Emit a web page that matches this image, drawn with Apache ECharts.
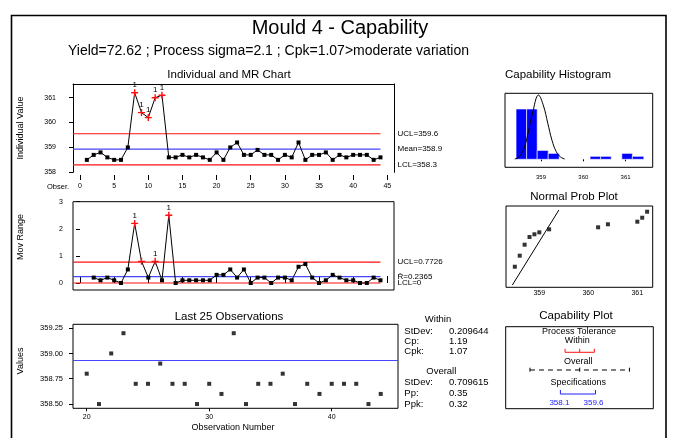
<!DOCTYPE html>
<html><head><meta charset="utf-8">
<script src="https://cdn.jsdelivr.net/npm/echarts@6/dist/echarts.min.js"></script>
<style>html,body{margin:0;padding:0;background:#fff}#c{width:676px;height:438px}</style>
</head><body><div id="c"></div>
<script>
// ---------------- DATA ----------------
const obsNums = [1,2,3,4,5,6,7,8,9,10,11,12,13,14,15,16,17,18,19,20,21,22,23,24,25,26,27,28,29,30,31,32,33,34,35,36,37,38,39,40,41,42,43,44];
const indValues = [358.5,358.7,358.8,358.6,358.5,358.5,359.0,361.2,360.4,360.2,361.0,361.1,358.6,358.6,358.7,358.6,358.7,358.6,358.5,358.8,358.5,359.0,359.2,358.7,358.7,358.9,358.7,358.7,358.5,358.7,358.6,359.2,358.5,358.7,358.7,358.8,358.5,358.7,358.6,358.7,358.7,358.7,358.5,358.6];
const indFlagged = [8,9,10,11,12];
const indLimitNames = ['UCL=359.6','Mean=358.9','LCL=358.3'];
const indLimitValues = [359.55,358.93,358.30];

const mrObs = [2,3,4,5,6,7,8,9,10,11,12,13,14,15,16,17,18,19,20,21,22,23,24,25,26,27,28,29,30,31,32,33,34,35,36,37,38,39,40,41,42,43,44];
const mrValues = [0.2,0.1,0.2,0.1,0.0,0.5,2.2,0.8,0.2,0.8,0.1,2.5,0.0,0.1,0.1,0.1,0.1,0.1,0.3,0.3,0.5,0.2,0.5,0.0,0.2,0.2,0.0,0.2,0.2,0.1,0.6,0.7,0.2,0.0,0.1,0.3,0.2,0.1,0.1,0.0,0.0,0.2,0.1];
const mrFlagged = [8,9,11,13];
const mrLabeled = [8,11,13];
const mrLimitNames = ['UCL=0.7726','R\u0304=0.2365','LCL=0'];
const mrLimitValues = [0.7726,0.2365,0];

const obsTicks = [0,5,10,15,20,25,30,35,40,45];
const indTicks = [358,359,360,361];
const mrTicks = [0,1,2,3];

const last25Obs = [20,21,22,23,24,25,26,27,28,29,30,31,32,33,34,35,36,37,38,39,40,41,42,43,44];
const last25Values = [358.8,358.5,359.0,359.2,358.7,358.7,358.9,358.7,358.7,358.5,358.7,358.6,359.2,358.5,358.7,358.7,358.8,358.5,358.7,358.6,358.7,358.7,358.7,358.5,358.6];
const last25Mean = 358.925;
const last25XTicks = [20,30,40];
const last25YTicks = [358.5,358.75,359.0,359.25];

const binLo = [358.41,358.66,358.91,359.17,360.16,360.41,360.91,361.16];
const binHi = [358.66,358.91,359.17,359.43,360.41,360.66,361.16,361.43];
const binCounts = [17,17,3,2,1,1,2,1];
const curveX = [358.38,358.46,358.54,358.62,358.70,358.80,358.94,359.06,359.16,359.26,359.36,359.46,359.56];
const curveY = [0.1,0.6,1.9,4.6,9.2,15.6,21.7,18.0,12.2,6.4,2.6,0.8,0.1];
const histTicks = [359,360,361];

const probX = [358.5,358.6,358.7,358.8,358.9,359.0,359.2,360.2,360.4,361.0,361.1,361.2];
const probY = [25.3,38.9,52.4,61.9,65.2,67.6,71.3,73.8,77.5,80.7,85.6,93.0];
const fitX = [358.45,359.40];
const fitY = [2.8,95.1];
const probTicks = [359,360,361];

const capRows = ['Within','Overall','Specifications'];
const capLo = [358.30,356.80,358.1];
const capHi = [359.55,361.05,359.6];
const capMid = [358.925,358.925,null];

const withinStatNames = ['StDev:','Cp:','Cpk:'];
const withinStatValues = ['0.209644','1.19','1.07'];
const overallStatNames = ['StDev:','Pp:','Ppk:'];
const overallStatValues = ['0.709615','0.35','0.32'];

const mainTitle = 'Mould 4 - Capability';
const subTitle = 'Yield=72.62 ; Process sigma=2.1 ; Cpk=1.07>moderate variation';

// ---------------- LAYOUT / STYLE ----------------
const FONT = '"Liberation Sans", Arial, sans-serif';
const BLUE = '#4646ff', RED = '#ff1010', HBLUE = '#0000ff';
const plusPath = 'path://M4,0H6V4H10V6H6V10H4V6H0V4H4Z';
const indX = {min:-1.03, max:45.98};
const capRowY = [68.8,47.2,17.9];
const capColors = [RED,'#000','#2020ff'];

function txt(x,y,s,size,extra){
  const st = Object.assign({text:s, font: size+'px '+FONT, fill:'#000', align:'center', verticalAlign:'middle', textAlign:'center', textVerticalAlign:'middle'}, extra||{});
  return {type:'text', x:x, y:y, z:100, style:st};
}
function ltxt(x,y,s,size){ return txt(x,y,s,size,{align:'left',textAlign:'left'}); }

const blackTick = {lineStyle:{color:'#000',width:1}};
const lbl = (size, extra) => Object.assign({color:'#000', fontSize:size, fontFamily:FONT}, extra||{});

function pt(x,y,flag,labeled){
  if(!flag) return [x,y];
  return {value:[x,y], symbol:plusPath, symbolSize:7, itemStyle:{color:RED},
    label:{show:!!labeled, formatter:'1', position:'top', distance:0, fontSize:8, color:'#000', fontFamily:FONT}};
}

const grids = [
  {left:73, top:84, width:321, height:88.3},                 // 0 individual
  {left:73, top:201.7, width:321, height:88.3, show:true, borderColor:'#000', borderWidth:1}, // 1 MR
  {left:73, top:324.3, width:325, height:84, show:true, borderColor:'#000', borderWidth:1},   // 2 last 25
  {left:505, top:93.3, width:147.7, height:74, show:true, borderColor:'#000', borderWidth:1}, // 3 histogram
  {left:506, top:206, width:146.7, height:81.3, show:true, borderColor:'#000', borderWidth:1},// 4 norm prob
  {left:505.7, top:326.7, width:147.6, height:82, show:true, borderColor:'#000', borderWidth:1}// 5 cap plot
];

const noLine = {show:false};
const xAxes = [
  {gridIndex:0, type:'value', min:indX.min, max:indX.max, position:'bottom', offset:7.7,
   axisLine:noLine, splitLine:noLine,
   axisTick:Object.assign({show:true, inside:true, length:5, customValues:obsTicks}, blackTick),
   axisLabel:lbl(7,{customValues:obsTicks, margin:3})},
  {gridIndex:0, type:'value', min:indX.min, max:indX.max, position:'top',
   axisLine:{show:true, onZero:false, lineStyle:{color:'#000',width:1}}, axisTick:noLine, axisLabel:noLine, splitLine:noLine},
  {gridIndex:1, type:'value', min:indX.min, max:indX.max, position:'top',
   axisLine:noLine, splitLine:noLine,
   axisTick:Object.assign({show:true, inside:false, length:7, customValues:obsTicks}, blackTick), axisLabel:noLine},
  {gridIndex:2, type:'value', min:18.88, max:45.41, position:'bottom',
   axisLine:noLine, splitLine:noLine,
   axisTick:Object.assign({show:true, length:3, customValues:last25XTicks}, blackTick),
   axisLabel:lbl(7,{customValues:last25XTicks, margin:5})},
  {gridIndex:3, type:'value', min:358.149, max:361.64, position:'bottom',
   axisLine:noLine, splitLine:noLine,
   axisTick:Object.assign({show:true, length:2, customValues:histTicks}, blackTick),
   axisLabel:lbl(6,{customValues:histTicks, margin:7})},
  {gridIndex:4, type:'value', min:358.32, max:361.314, position:'bottom',
   axisLine:noLine, splitLine:noLine, axisTick:noLine,
   axisLabel:lbl(7,{customValues:probTicks, margin:2})},
  {gridIndex:5, type:'value', min:355.763, max:362.07, show:false}
];
const yAxes = [
  {gridIndex:0, type:'value', min:358, max:361.55, position:'left',
   axisLine:{show:true, onZero:false, lineStyle:{color:'#000',width:1}}, splitLine:noLine,
   axisTick:Object.assign({show:true, length:4, customValues:indTicks}, blackTick),
   axisLabel:lbl(7,{customValues:indTicks, margin:17})},
  {gridIndex:0, type:'value', min:358, max:361.55, position:'right',
   axisLine:{show:true, onZero:false, lineStyle:{color:'#000',width:1}}, axisTick:noLine, axisLabel:noLine, splitLine:noLine},
  {gridIndex:1, type:'value', min:-0.258, max:3, position:'left',
   axisLine:noLine, splitLine:noLine,
   axisTick:Object.assign({show:true, length:4, customValues:mrTicks}, blackTick),
   axisLabel:lbl(7,{customValues:mrTicks, margin:10})},
  {gridIndex:2, type:'value', min:358.458, max:359.288, position:'left',
   axisLine:noLine, splitLine:noLine,
   axisTick:Object.assign({show:true, length:4, customValues:last25YTicks}, blackTick),
   axisLabel:lbl(7.5,{customValues:last25YTicks, margin:10, formatter:v=>Number(v).toFixed(2)})},
  {gridIndex:3, type:'value', min:-2.7, max:22.3, show:false},
  {gridIndex:4, type:'value', min:0, max:100, show:false},
  {gridIndex:5, type:'value', min:0, max:100, show:false}
];

const series = [];
// Individual chart
indLimitValues.forEach((v,i)=>{
  series.push({type:'line', xAxisIndex:0, yAxisIndex:0, data:[[indX.min,v],[obsNums[obsNums.length-1],v]],
    symbol:'none', lineStyle:{color: i===1?BLUE:RED, width:1.2}, z:2, silent:true,
    endLabel:{show:true, formatter:indLimitNames[i], distance:17, fontSize:8, color:'#000', fontFamily:FONT}});
});
series.push({type:'line', xAxisIndex:0, yAxisIndex:0, z:5,
  data: obsNums.map((o,i)=>pt(o, indValues[i], indFlagged.includes(o), true)),
  symbol:'rect', symbolSize:4, showAllSymbol:true, itemStyle:{color:'#000'}, lineStyle:{color:'#000', width:1}});
// MR chart
mrLimitValues.forEach((v,i)=>{
  series.push({type:'line', xAxisIndex:2, yAxisIndex:2, data:[[indX.min,v],[obsNums[obsNums.length-1],v]],
    symbol:'none', lineStyle:{color: i===1?BLUE:RED, width:1.2}, z:2, silent:true,
    endLabel:{show:true, formatter:mrLimitNames[i], distance:17, fontSize:8, color:'#000', fontFamily:FONT}});
});
series.push({type:'line', xAxisIndex:2, yAxisIndex:2, z:5,
  data: mrObs.map((o,i)=>pt(o, mrValues[i], mrFlagged.includes(o), mrLabeled.includes(o))),
  symbol:'rect', symbolSize:4, showAllSymbol:true, itemStyle:{color:'#000'}, lineStyle:{color:'#000', width:1}});
// Last 25
series.push({type:'scatter', xAxisIndex:3, yAxisIndex:3, z:5,
  data: last25Obs.map((o,i)=>[o, last25Values[i]]), symbol:'rect', symbolSize:4, itemStyle:{color:'#000'},
  markLine:{silent:true, symbol:'none', animation:false, label:{show:false},
    lineStyle:{color:BLUE, type:'solid', width:1.2}, data:[{yAxis:last25Mean}]}});
// Histogram
series.push({type:'custom', xAxisIndex:4, yAxisIndex:4, z:3,
  data: binLo.map((lo,i)=>[lo, binHi[i], binCounts[i]]), encode:{x:[0,1], y:2},
  renderItem:(params, api)=>{
    const p0 = api.coord([api.value(0), api.value(2)]);
    const p1 = api.coord([api.value(1), 0]);
    return {type:'rect', shape:{x:p0[0], y:p0[1], width:p1[0]-p0[0], height:p1[1]-p0[1]},
      style:{fill:HBLUE, stroke:'#fff', lineWidth:0.6}};
  }});
series.push({type:'line', xAxisIndex:4, yAxisIndex:4, z:6, smooth:0.4,
  data: curveX.map((x,i)=>[x, curveY[i]]), symbol:'none', lineStyle:{color:'#000', width:1}});
// Normal probability plot
series.push({type:'line', xAxisIndex:5, yAxisIndex:5, z:4,
  data: fitX.map((x,i)=>[x, fitY[i]]), symbol:'none', lineStyle:{color:'#000', width:1}});
series.push({type:'scatter', xAxisIndex:5, yAxisIndex:5, z:5,
  data: probX.map((x,i)=>[x, probY[i]]), symbol:'rect', symbolSize:4, itemStyle:{color:'#000'}});
// Capability plot
series.push({type:'custom', xAxisIndex:6, yAxisIndex:6, z:5,
  data: capLo.map((lo,i)=>[lo, capHi[i]]), encode:{x:[0,1]},
  renderItem:(params, api)=>{
    const i = params.dataIndex, ry = capRowY[i], color = capColors[i];
    const lo = api.value(0), hi = api.value(1);
    const a = api.coord([lo, ry]), b = api.coord([hi, ry]);
    const ch = [{type:'line', shape:{x1:a[0], y1:a[1], x2:b[0], y2:b[1]},
      style:{stroke:color, lineWidth:1, lineDash: i===1?[5,4]:null}}];
    const xs = [a[0], b[0]];
    if (capMid[i] !== null) xs.push(api.coord([capMid[i], ry])[0]);
    const up = i===2?4:(i===0?3.5:2.3), down = i===1?1.7:0;
    xs.forEach(x=>ch.push({type:'line', shape:{x1:x, y1:a[1]-up, x2:x, y2:a[1]+down}, style:{stroke:color, lineWidth:1}}));
    if (i===2) {
      ch.push({type:'text', x:a[0]-1, y:a[1]+8.5, style:{text:String(lo), fill:'#2020ff', font:'8px '+FONT, align:'center', verticalAlign:'middle'}});
      ch.push({type:'text', x:b[0]-2, y:a[1]+8.5, style:{text:String(hi), fill:'#2020ff', font:'8px '+FONT, align:'center', verticalAlign:'middle'}});
    }
    return {type:'group', children:ch};
  }});

// Static texts
const graphics = [
  {type:'rect', shape:{x:11.5, y:15.5, width:654.5, height:440}, style:{fill:'none', stroke:'#000', lineWidth:1.6}, z:0, silent:true},
  txt(340, 28, mainTitle, 20),
  txt(268.5, 51.5, subTitle, 14),
  txt(229, 75, 'Individual and MR Chart', 11.5),
  txt(558, 75, 'Capability Histogram', 11.5),
  txt(574, 197, 'Normal Prob Plot', 11.5),
  txt(229, 317, 'Last 25 Observations', 11.5),
  txt(576, 316, 'Capability Plot', 11.5),
  txt(21, 128, 'Individual Value', 9, {}),
  txt(21, 237, 'Mov Range', 9, {}),
  txt(21, 361, 'Values', 9, {}),
  txt(58, 187, 'Obser.', 7.5),
  txt(233, 428, 'Observation Number', 9),
  txt(579, 331.7, 'Process Tolerance', 9),
  txt(577.3, 340.7, capRows[0], 9),
  txt(578.3, 361.7, capRows[1], 9),
  txt(578.3, 382.7, capRows[2], 9),
  txt(438, 319.3, 'Within', 9.5),
  txt(441.3, 371, 'Overall', 9.5)
];
graphics[8].rotation = Math.PI/2; graphics[9].rotation = Math.PI/2; graphics[10].rotation = Math.PI/2;
const wY = [331,341.7,351], oY = [382.3,393.3,404.3];
withinStatNames.forEach((n,i)=>{ graphics.push(ltxt(404.3, wY[i], n, 9.5)); graphics.push(ltxt(449, wY[i], withinStatValues[i], 9.5)); });
overallStatNames.forEach((n,i)=>{ graphics.push(ltxt(404.3, oY[i], n, 9.5)); graphics.push(ltxt(449, oY[i], overallStatValues[i], 9.5)); });

const chart = echarts.init(document.getElementById('c'), null, {renderer:'canvas'});
chart.setOption({
  animation:false,
  backgroundColor:'#fff',
  textStyle:{fontFamily:FONT},
  grid:grids, xAxis:xAxes, yAxis:yAxes, series:series, graphic:graphics
});
</script></body></html>
